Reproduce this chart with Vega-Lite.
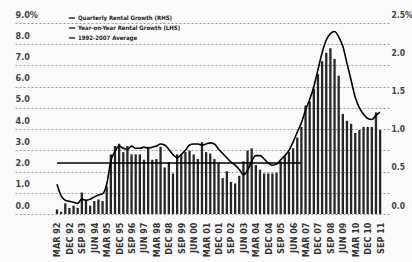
{
  "$schema": "https://vega.github.io/schema/vega-lite/v6.json",
  "width": 374,
  "height": 191,
  "autosize": {"type": "none"},
  "padding": {"left": 15, "top": 23, "right": 23, "bottom": 48},
  "background": "#fbfbfb",
  "config": {"view": {"stroke": null}, "font": "DejaVu Sans Condensed", "axis": {"labelOverlap": false}},
  "datasets": {
    "q": [
      {"i":0,"quarter":"MAR 92","qoq":0.06,"yoy":1.4},
      {"i":1,"quarter":"JUN 92","qoq":0.03,"yoy":0.85},
      {"i":2,"quarter":"SEP 92","qoq":0.14,"yoy":0.65},
      {"i":3,"quarter":"DEC 92","qoq":0.08,"yoy":0.6},
      {"i":4,"quarter":"MAR 93","qoq":0.11,"yoy":0.55},
      {"i":5,"quarter":"JUN 93","qoq":0.08,"yoy":0.5},
      {"i":6,"quarter":"SEP 93","qoq":0.28,"yoy":0.7},
      {"i":7,"quarter":"DEC 93","qoq":0.17,"yoy":0.65},
      {"i":8,"quarter":"MAR 94","qoq":0.11,"yoy":0.7},
      {"i":9,"quarter":"JUN 94","qoq":0.17,"yoy":0.8},
      {"i":10,"quarter":"SEP 94","qoq":0.19,"yoy":0.9},
      {"i":11,"quarter":"DEC 94","qoq":0.17,"yoy":0.95},
      {"i":12,"quarter":"MAR 95","qoq":0.36,"yoy":1.4},
      {"i":13,"quarter":"JUN 95","qoq":0.78,"yoy":2.5},
      {"i":14,"quarter":"SEP 95","qoq":0.89,"yoy":2.95},
      {"i":15,"quarter":"DEC 95","qoq":0.92,"yoy":3.2},
      {"i":16,"quarter":"MAR 96","qoq":0.81,"yoy":3.1},
      {"i":17,"quarter":"JUN 96","qoq":0.89,"yoy":3.05},
      {"i":18,"quarter":"SEP 96","qoq":0.78,"yoy":3.2},
      {"i":19,"quarter":"DEC 96","qoq":0.78,"yoy":3.1},
      {"i":20,"quarter":"MAR 97","qoq":0.78,"yoy":3.1},
      {"i":21,"quarter":"JUN 97","qoq":0.71,"yoy":3.15},
      {"i":22,"quarter":"SEP 97","qoq":0.88,"yoy":3.1},
      {"i":23,"quarter":"DEC 97","qoq":0.71,"yoy":3.15},
      {"i":24,"quarter":"MAR 98","qoq":0.72,"yoy":3.2},
      {"i":25,"quarter":"JUN 98","qoq":0.88,"yoy":3.3},
      {"i":26,"quarter":"SEP 98","qoq":0.61,"yoy":3.25},
      {"i":27,"quarter":"DEC 98","qoq":0.68,"yoy":3.05},
      {"i":28,"quarter":"MAR 99","qoq":0.53,"yoy":2.8},
      {"i":29,"quarter":"JUN 99","qoq":0.78,"yoy":2.65},
      {"i":30,"quarter":"SEP 99","qoq":0.78,"yoy":2.8},
      {"i":31,"quarter":"DEC 99","qoq":0.81,"yoy":3.0},
      {"i":32,"quarter":"MAR 00","qoq":0.83,"yoy":3.25},
      {"i":33,"quarter":"JUN 00","qoq":0.78,"yoy":3.3},
      {"i":34,"quarter":"SEP 00","qoq":0.72,"yoy":3.3},
      {"i":35,"quarter":"DEC 00","qoq":0.94,"yoy":3.25},
      {"i":36,"quarter":"MAR 01","qoq":0.81,"yoy":3.3},
      {"i":37,"quarter":"JUN 01","qoq":0.79,"yoy":3.35},
      {"i":38,"quarter":"SEP 01","qoq":0.72,"yoy":3.3},
      {"i":39,"quarter":"DEC 01","qoq":0.67,"yoy":3.05},
      {"i":40,"quarter":"MAR 02","qoq":0.47,"yoy":2.85},
      {"i":41,"quarter":"JUN 02","qoq":0.56,"yoy":2.65},
      {"i":42,"quarter":"SEP 02","qoq":0.42,"yoy":2.45},
      {"i":43,"quarter":"DEC 02","qoq":0.40,"yoy":2.3},
      {"i":44,"quarter":"MAR 03","qoq":0.50,"yoy":2.1},
      {"i":45,"quarter":"JUN 03","qoq":0.69,"yoy":1.85},
      {"i":46,"quarter":"SEP 03","qoq":0.83,"yoy":2.05},
      {"i":47,"quarter":"DEC 03","qoq":0.86,"yoy":2.5},
      {"i":48,"quarter":"MAR 04","qoq":0.64,"yoy":2.75},
      {"i":49,"quarter":"JUN 04","qoq":0.58,"yoy":2.75},
      {"i":50,"quarter":"SEP 04","qoq":0.53,"yoy":2.6},
      {"i":51,"quarter":"DEC 04","qoq":0.53,"yoy":2.4},
      {"i":52,"quarter":"MAR 05","qoq":0.53,"yoy":2.3},
      {"i":53,"quarter":"JUN 05","qoq":0.54,"yoy":2.35},
      {"i":54,"quarter":"SEP 05","qoq":0.69,"yoy":2.55},
      {"i":55,"quarter":"DEC 05","qoq":0.75,"yoy":2.75},
      {"i":56,"quarter":"MAR 06","qoq":0.81,"yoy":3.0},
      {"i":57,"quarter":"JUN 06","qoq":0.86,"yoy":3.4},
      {"i":58,"quarter":"SEP 06","qoq":1.00,"yoy":3.85},
      {"i":59,"quarter":"DEC 06","qoq":1.14,"yoy":4.3},
      {"i":60,"quarter":"MAR 07","qoq":1.42,"yoy":4.9},
      {"i":61,"quarter":"JUN 07","qoq":1.47,"yoy":5.4},
      {"i":62,"quarter":"SEP 07","qoq":1.64,"yoy":6.0},
      {"i":63,"quarter":"DEC 07","qoq":1.83,"yoy":6.8},
      {"i":64,"quarter":"MAR 08","qoq":2.00,"yoy":7.6},
      {"i":65,"quarter":"JUN 08","qoq":2.11,"yoy":8.2},
      {"i":66,"quarter":"SEP 08","qoq":2.17,"yoy":8.5},
      {"i":67,"quarter":"DEC 08","qoq":2.03,"yoy":8.6},
      {"i":68,"quarter":"MAR 09","qoq":1.81,"yoy":8.35},
      {"i":69,"quarter":"JUN 09","qoq":1.31,"yoy":7.9},
      {"i":70,"quarter":"SEP 09","qoq":1.22,"yoy":7.1},
      {"i":71,"quarter":"DEC 09","qoq":1.18,"yoy":6.3},
      {"i":72,"quarter":"MAR 10","qoq":1.06,"yoy":5.5},
      {"i":73,"quarter":"JUN 10","qoq":1.10,"yoy":5.0},
      {"i":74,"quarter":"SEP 10","qoq":1.14,"yoy":4.7},
      {"i":75,"quarter":"DEC 10","qoq":1.14,"yoy":4.5},
      {"i":76,"quarter":"MAR 11","qoq":1.14,"yoy":4.45},
      {"i":77,"quarter":"JUN 11","qoq":1.33,"yoy":4.65},
      {"i":78,"quarter":"SEP 11","qoq":1.10,"yoy":4.8}
    ],
    "avg": [
      {"i":0,"avg":2.4},
      {"i":59,"avg":2.4}
    ]
  },
  "encoding": {
    "x": {
      "field": "i", "type": "quantitative",
      "scale": {"domain": [-8.93, 78.94], "nice": false, "zero": false},
      "axis": {
        "orient": "bottom", "title": null,
        "values": [0,3,6,9,12,15,18,21,24,27,30,33,36,39,42,45,48,51,54,57,60,63,66,69,72,75,78],
        "labelExpr": "['MAR','JUN','SEP','DEC'][datum.value % 4] + ' ' + slice('0' + ((92 + floor(datum.value / 4)) % 100), -2)",
        "labelAngle": 270, "labelPadding": 8, "ticks": false, "tickSize": 0,
        "domain": false, "grid": false, "labelOverlap": false, "labelFlush": false,
        "labelFont": "DejaVu Sans Condensed", "labelFontWeight": "bold", "labelFontSize": 9, "labelColor": "#333333"
      }
    }
  },
  "layer": [
    {
      "data": {"name": "q"},
      "mark": {"type": "bar", "width": 2.3, "color": "#262626"},
      "encoding": {
        "y": {
          "field": "qoq", "type": "quantitative",
          "scale": {"domain": [0, 2.5], "nice": false},
          "axis": {
            "orient": "right", "title": null,
            "values": [0, 0.5, 1, 1.5, 2, 2.5],
            "labelExpr": "datum.value == 2.5 ? '2.5%' : format(datum.value, '.1f')",
            "grid": false, "domain": false, "ticks": false, "tickSize": 0, "labelOverlap": false,
            "labelPadding": 2, "labelOffset": -9, "labelAlign": "left", "labelBaseline": "middle",
            "labelFont": "DejaVu Sans Condensed", "labelFontWeight": "bold", "labelFontSize": 8.5, "labelColor": "#444444"
          }
        }
      }
    },
    {
      "layer": [
        {
          "data": {"name": "q"},
          "mark": {"type": "line", "color": "black", "strokeWidth": 1.6, "interpolate": "monotone"},
          "encoding": {
            "y": {
              "field": "yoy", "type": "quantitative",
              "scale": {"domain": [0, 9], "nice": false},
              "axis": {
                "orient": "left", "title": null,
                "values": [0,1,2,3,4,5,6,7,8,9],
                "labelExpr": "datum.value == 9 ? '9.0%' : format(datum.value, '.1f')",
                "grid": true, "gridDash": [2, 2], "gridColor": "#999999", "gridWidth": 1,
                "domain": false, "ticks": false, "tickSize": 0, "labelOverlap": false,
                "labelPadding": 0, "labelOffset": -6, "labelAlign": "left", "labelBaseline": "alphabetic",
                "labelFont": "DejaVu Sans Condensed", "labelFontWeight": "bold", "labelFontSize": 9, "labelColor": "#444444"
              }
            },
            "stroke": {
              "datum": "Year-on-Year Rental Growth (LHS)",
              "scale": {
                "domain": ["Quarterly Rental Growth (RHS)", "Year-on-Year Rental Growth (LHS)", "1992-2007 Average"],
                "range": ["black", "black", "black"]
              },
              "legend": {
                "orient": "none", "legendX": 53, "legendY": -9, "title": null,
                "symbolType": "stroke", "symbolSize": 40, "symbolStrokeWidth": 1.2, "symbolStrokeColor": "black",
                "labelFont": "DejaVu Sans Condensed", "labelFontWeight": "bold", "labelFontSize": 6, "labelColor": "#222222",
                "labelOffset": 2, "rowPadding": 3, "padding": 0, "labelLimit": 300
              }
            }
          }
        },
        {
          "data": {"name": "avg"},
          "mark": {"type": "line", "color": "black", "strokeWidth": 1.5},
          "encoding": {
            "y": {
              "field": "avg", "type": "quantitative",
              "scale": {"domain": [0, 9], "nice": false},
              "axis": {
                "orient": "left", "title": null,
                "values": [0,1,2,3,4,5,6,7,8,9],
                "labelExpr": "datum.value == 9 ? '9.0%' : format(datum.value, '.1f')",
                "grid": true, "gridDash": [2, 2], "gridColor": "#999999", "gridWidth": 1,
                "domain": false, "ticks": false, "tickSize": 0, "labelOverlap": false,
                "labelPadding": 0, "labelOffset": -6, "labelAlign": "left", "labelBaseline": "alphabetic",
                "labelFont": "DejaVu Sans Condensed", "labelFontWeight": "bold", "labelFontSize": 9, "labelColor": "#444444"
              }
            },
            "stroke": {"datum": "1992-2007 Average"}
          }
        }
      ]
    }
  ],
  "resolve": {"scale": {"y": "independent"}}
}
